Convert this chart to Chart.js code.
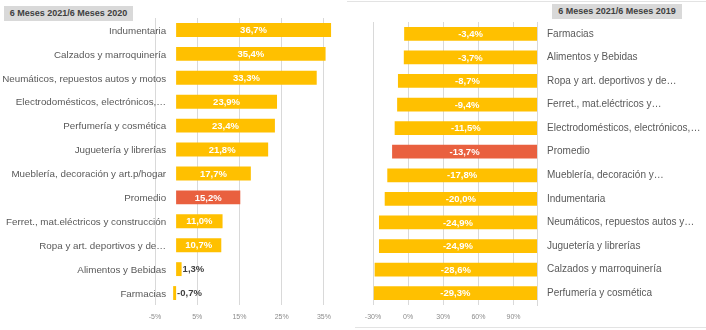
<!DOCTYPE html>
<html>
<head>
<meta charset="utf-8">
<script src="https://cdn.jsdelivr.net/npm/chart.js@4/dist/chart.umd.min.js"></script>
<style>
  html, body { margin:0; padding:0; background:#fff; }
  #wrap { position:relative; width:706px; height:330px; overflow:hidden; background:#fff; }
  canvas { position:absolute; top:0; }
  #c1 { left:0; }
  #c2 { left:350px; }
  .ttl { position:absolute; background:#D9D9D9; color:#404040; font:bold 9px "Liberation Sans", Arial, sans-serif;
         height:15px; line-height:15px; text-align:center; white-space:nowrap; }
  #t1 { left:4px; top:6px; width:129px; }
  #t2 { left:552px; top:4px; width:130px; }
  #frameTop { position:absolute; left:347px; top:1px; width:359px; height:1px; background:#E3E3E3; }
  #frameBot { position:absolute; left:355px; top:327px; width:351px; height:1px; background:#E3E3E3; }
</style>
</head>
<body>
<div id="wrap">
  <canvas id="c1" width="350" height="330"></canvas>
  <canvas id="c2" width="356" height="330"></canvas>
  <div id="frameTop"></div>
  <div id="frameBot"></div>
  <div class="ttl" id="t1">6 Meses 2021/6 Meses 2020</div>
  <div class="ttl" id="t2">6 Meses 2021/6 Meses 2019</div>
</div>
<script>
// ---- Data: 6 Meses 2021 / 6 Meses 2020 ----
const cats2020 = [
  "Indumentaria",
  "Calzados y marroquinería",
  "Neumáticos, repuestos autos y motos",
  "Electrodomésticos, electrónicos,…",
  "Perfumería y cosmética",
  "Juguetería y librerías",
  "Mueblería, decoración y art.p/hogar",
  "Promedio",
  "Ferret., mat.eléctricos y construcción",
  "Ropa y art. deportivos y de…",
  "Alimentos y Bebidas",
  "Farmacias"
];
const vals2020 = [36.7, 35.4, 33.3, 23.9, 23.4, 21.8, 17.7, 15.2, 11.0, 10.7, 1.3, -0.7];
const ticks2020 = [-5, 5, 15, 25, 35];

// ---- Data: 6 Meses 2021 / 6 Meses 2019 ----
const cats2019 = [
  "Farmacias",
  "Alimentos y Bebidas",
  "Ropa y art. deportivos y de…",
  "Ferret., mat.eléctricos y…",
  "Electrodomésticos, electrónicos,…",
  "Promedio",
  "Mueblería, decoración y…",
  "Indumentaria",
  "Neumáticos, repuestos autos y…",
  "Juguetería y librerías",
  "Calzados y marroquinería",
  "Perfumería y cosmética"
];
const vals2019 = [-3.4, -3.7, -8.7, -9.4, -11.5, -13.7, -17.8, -20.0, -24.9, -24.9, -28.6, -29.3];
const ticks2019 = [-30, 0, 30, 60, 90];

const GOLD = '#FFC000';
const AVG = '#E9603F';
const GRID = '#D9D9D9';
const FONT = '"Liberation Sans", Arial, sans-serif';

function colorsFor(cats) { return cats.map(c => c === 'Promedio' ? AVG : GOLD); }
function fmt(v) { return v.toFixed(1).replace('.', ',') + '%'; }

const labelPlugin = {
  id: 'barLabels',
  afterDatasetsDraw(chart) {
    const ctx = chart.ctx;
    const meta = chart.getDatasetMeta(0);
    const data = chart.data.datasets[0].data;
    ctx.save();
    ctx.font = 'bold 9.5px ' + FONT;
    ctx.textBaseline = 'middle';
    meta.data.forEach((el, i) => {
      const p = el.getProps(['x', 'y', 'base'], true);
      const l = Math.min(p.x, p.base), r = Math.max(p.x, p.base);
      const txt = fmt(data[i]);
      if (r - l < 32) {
        ctx.fillStyle = '#404040';
        ctx.textAlign = 'left';
        ctx.fillText(txt, r + 1, p.y + 0.5);
      } else {
        ctx.fillStyle = '#FFFFFF';
        ctx.textAlign = 'center';
        ctx.fillText(txt, (l + r) / 2, p.y + 0.5);
      }
    });
    ctx.restore();
  }
};

// Category labels placed next to the value-axis zero (as the category axis crosses at 0)
const catLabelPlugin = {
  id: 'catLabels',
  afterDraw(chart, args, o) {
    if (!o || !o.enabled) return;
    const ctx = chart.ctx;
    const ys = chart.scales.y, xs = chart.scales.x;
    const x0 = xs.getPixelForValue(0) - 10;
    ctx.save();
    ctx.font = '9.8px ' + FONT;
    ctx.fillStyle = '#595959';
    ctx.textAlign = 'right';
    ctx.textBaseline = 'middle';
    chart.data.labels.forEach((lab, i) => {
      ctx.fillText(lab, x0, ys.getPixelForValue(i) + 1);
    });
    ctx.restore();
  }
};

function makeChart(id, cats, vals, tickVals, opts) {
  return new Chart(document.getElementById(id), {
    type: 'bar',
    data: {
      labels: cats,
      datasets: [{
        data: vals,
        backgroundColor: colorsFor(cats),
        borderWidth: 0,
        barPercentage: 0.58,
        categoryPercentage: 1.0,
        base: opts.base
      }]
    },
    options: {
      indexAxis: 'y',
      responsive: false,
      animation: false,
      devicePixelRatio: 1,
      layout: { padding: opts.padding },
      plugins: {
        legend: { display: false }, tooltip: { enabled: false }, title: { display: false },
        catLabels: { enabled: opts.customCats }
      },
      scales: {
        x: {
          type: 'linear',
          min: opts.min, max: opts.max,
          afterBuildTicks: (s) => { s.ticks = tickVals.map(v => ({ value: v })); },
          afterFit: (s) => { s.height = 20; },
          grid: { color: GRID, lineWidth: 1, drawTicks: false },
          border: { display: false },
          ticks: {
            color: '#8C8C8C',
            font: { family: FONT, size: 7 },
            padding: 8,
            maxRotation: 0,
            callback: (v) => v + '%'
          }
        },
        y: {
          type: 'category',
          position: opts.yPos,
          afterFit: (s) => { s.width = opts.yWidth; },
          grid: { display: false, drawTicks: false },
          border: { display: opts.yBorder, color: GRID, width: 1 },
          ticks: {
            display: !opts.customCats,
            color: '#595959',
            font: { family: FONT, size: 10 },
            padding: opts.yPad,
            autoSkip: false
          }
        }
      }
    },
    plugins: [labelPlugin, catLabelPlugin]
  });
}

makeChart('c1', cats2020, vals2020, ticks2020, {
  min: -5, max: 40, base: undefined,
  padding: { left: 0, right: 5, top: 18, bottom: 5 },
  yPos: 'left', yWidth: 155, yPad: 0, yBorder: false, customCats: true
});

makeChart('c2', cats2019, vals2019, ticks2019, {
  min: -30, max: 110, base: 110,
  padding: { left: 23, right: 0, top: 22, bottom: 5 },
  yPos: 'right', yWidth: 169, yPad: 10, yBorder: true, customCats: false
});
</script>
</body>
</html>
